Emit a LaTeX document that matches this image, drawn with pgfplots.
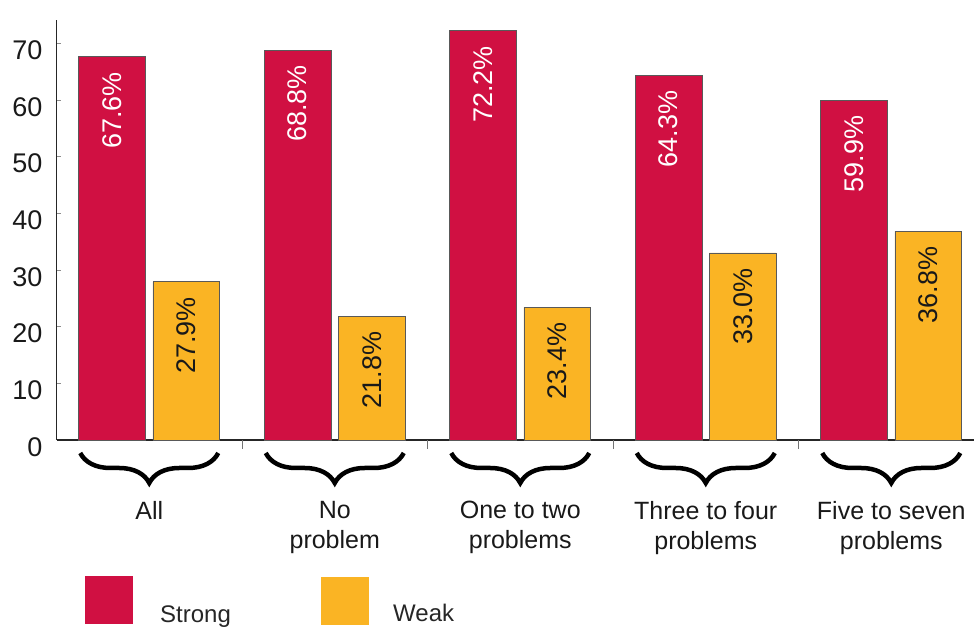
\documentclass[border=0pt]{standalone}
\usepackage{fontspec}
\setmainfont{Liberation Sans}
\usepackage{pgfplots}
\pgfplotsset{compat=1.18}
\usetikzlibrary{decorations.pathreplacing}
\definecolor{strongc}{RGB}{208,16,66}
\definecolor{weakc}{RGB}{250,180,36}
\newcommand{\bigf}{\fontsize{25bp}{30bp}\selectfont}
\newcommand{\numf}{\fontsize{27bp}{30bp}\selectfont}
\begin{document}
\bigf
\begin{tikzpicture}[x=1bp,y=1bp]
\path[use as bounding box] (0,0) rectangle (974,630);
\begin{axis}[
  at={(56.5bp,190bp)}, anchor=south west,
  scale only axis, width=917.5bp, height=420bp,
  xmin=-0.5, xmax=4.446, ymin=0, ymax=74.1,
  axis x line=bottom, axis y line=left,
  axis line style={-, line width=1.3bp, black!85},
  clip=false,
  /pgf/number format/assume math mode=true,
  tick align=inside,
  ytick={0,10,...,70},
  ytick style={draw=black!45, line width=0.8bp},
  major tick length=4bp,
  y tick label style={anchor=east, inner sep=0pt, xshift=-14bp, yshift=-7bp, font=\numf, text=black!90},
  xtick={0,1,2,3,4},
  xtick style={draw=none},
  xticklabels={All, No\\problem, One to two\\problems, Three to four\\problems, Five to seven\\problems},
  x tick label style={align=center, anchor=north, inner sep=0pt, yshift=-57bp, font=\bigf, text=black!90},
  extra x ticks={0.5,1.5,2.5,3.5},
  extra x tick labels={},
  extra x tick style={xtick style={draw=black!55, line width=1bp}, major tick length=9bp},
  ybar=0pt, bar width=0.36,
  nodes near coords={\pgfmathprintnumber[fixed,precision=1,fixed zerofill]{\pgfplotspointmeta}\%},
  every node near coord/.append style={rotate=90, anchor=east, inner xsep=15bp, inner ysep=0pt, font=\numf},
]
\addplot[fill=strongc, draw=black!65, line width=0.8bp, bar shift=-0.2,
  every node near coord/.append style={text=white}]
  coordinates {(0,67.6) (1,68.8) (2,72.2) (3,64.3) (4,59.9)};
\addplot[fill=weakc, draw=black!65, line width=0.8bp, bar shift=0.2,
  every node near coord/.append style={text=black!90}]
  coordinates {(0,27.9) (1,21.8) (2,23.4) (3,33.0) (4,36.8)};
\pgfplotsinvokeforeach{0,1,2,3,4}{
  \draw[decorate, decoration={brace, mirror, amplitude=30bp}, line width=4.5bp, black]
    ([yshift=-13bp]axis cs:{#1-0.372},0) -- ([yshift=-13bp]axis cs:{#1+0.372},0);
}
\end{axis}
\fill[strongc] (85,6) rectangle (133,54);
\node[anchor=base west, inner sep=0pt, font=\fontsize{24bp}{28bp}\selectfont, text=black!85] at (160,7) {Strong};
\fill[weakc] (321,5) rectangle (369,53);
\node[anchor=base west, inner sep=0pt, font=\fontsize{24bp}{28bp}\selectfont, text=black!85] at (393,8) {Weak};
\end{tikzpicture}
\end{document}
